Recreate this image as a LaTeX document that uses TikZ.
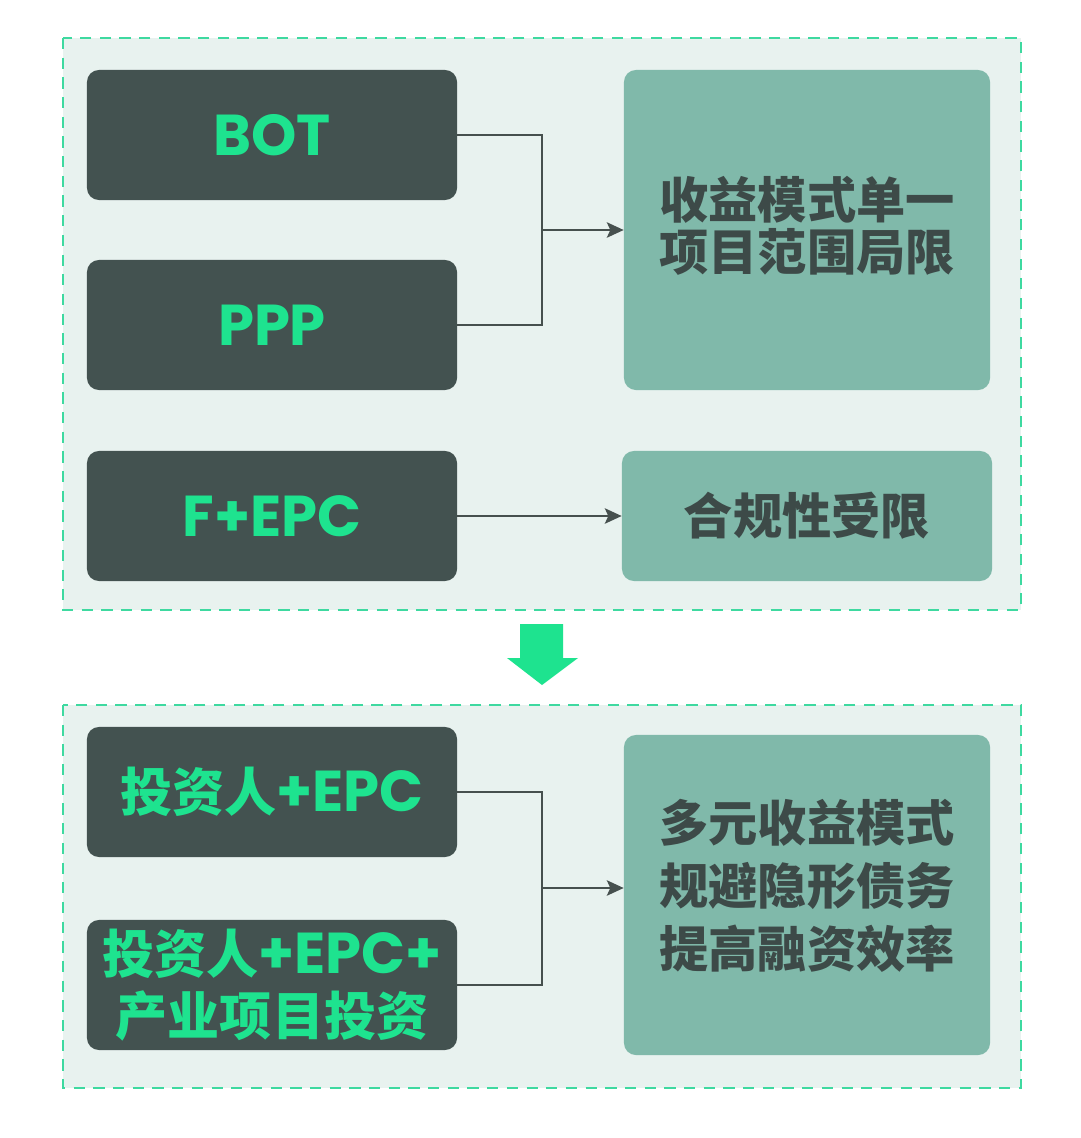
\documentclass[tikz,border=0pt]{standalone}
\usepackage{fontspec}
\usepackage{tikz}
\usetikzlibrary{arrows.meta}
\newfontfamily\cjk{Noto Sans CJK SC}
\newfontfamily\lat{Poppins}
\definecolor{panelbg}{RGB}{232,242,239}
\definecolor{dashgreen}{RGB}{62,217,160}
\definecolor{darkbox}{RGB}{67,82,80}
\definecolor{tealbox}{RGB}{128,185,170}
\definecolor{tealtext}{RGB}{61,74,72}
\definecolor{mint}{RGB}{30,227,143}
\definecolor{wire}{RGB}{70,80,78}
\newcommand{\latbig}{\lat\fontsize{41}{44}\selectfont}
\newcommand{\cjkbig}{\cjk\fontsize{37}{44}\selectfont}
\tikzset{
  panel/.style={draw=dashgreen,fill=panelbg,line width=1.4pt,dash pattern=on 8pt off 6pt},
  leftbox/.style={fill=darkbox,rounded corners=0.3cm,minimum width=9.25cm,minimum height=3.25cm,
    inner sep=0pt,text=mint,font=\bfseries\fontsize{37}{44}\selectfont,align=center},
  rightbox/.style={fill=tealbox,rounded corners=0.3cm,inner sep=0pt,minimum width=9.15cm},
  righttext/.style={text=tealtext,inner sep=0pt,font=\cjk\bfseries\fontsize{35}{37}\selectfont,align=center},
  wireline/.style={draw=wire,line width=1.3pt},
  wirearrow/.style={wireline,-{Stealth[length=12pt,width=11pt,inset=2.5pt]}}
}
\begin{document}
\begin{tikzpicture}[x=0.025cm,y=-0.025cm]
            \useasboundingbox[fill=white] (0,0) rectangle (1080,1138);
            % top panel
            \draw[panel] (63,38) rectangle (1021,610);
            \node[leftbox] (bot) at (272,135){\latbig BOT};
            \node[leftbox] (ppp) at (272,325){\latbig PPP};
            \node[leftbox] (fepc) at (272,516){\latbig F+EPC};
            \node[rightbox,minimum height=8cm] (single) at (807,230){};
            \node[righttext] (singletext) at (807,226){收益模式单一\\项目范围局限};
            \node[rightbox,minimum width=9.25cm,minimum height=3.25cm] (limit) at (807,516){};
            \node[righttext] (limittext) at (807,516){合规性受限};
            \coordinate (join1) at (542,230);
            \draw[wireline] (bot.east) -| (join1);
            \draw[wireline] (ppp.east) -| (join1);
            \draw[wirearrow] (join1) -- (single.west);
            \draw[wirearrow] (fepc.east) -- (limit.west);

            % down arrow
            \fill[mint] (520,624) -- (563,624) -- (563,658) -- (578,658) -- (542,685)
                -- (507,658) -- (520,658) -- cycle;

            % bottom panel
            \draw[panel] (63,705) rectangle (1021,1088);
            \node[leftbox] (inv) at (272,792){{\cjkbig 投资人}{\latbig +EPC}};
            \node[leftbox] (invind) at (272,985){{\cjkbig 投资人}{\latbig +EPC+}\\{\cjkbig 产业项目投资}};
            \node[rightbox,minimum height=8cm] (multi) at (807,895){};
            \node[righttext,font=\cjk\bfseries\fontsize{35}{45}\selectfont] (multitext) at (807,886){多元收益模式\\规避隐形债务\\提高融资效率};
            \coordinate (join2) at (542,888);
            \draw[wireline] (inv.east) -| (join2);
            \draw[wireline] (invind.east) -| (join2);
            \draw[wirearrow] (join2) -- (multi.west |- join2);
\end{tikzpicture}
\end{document}
